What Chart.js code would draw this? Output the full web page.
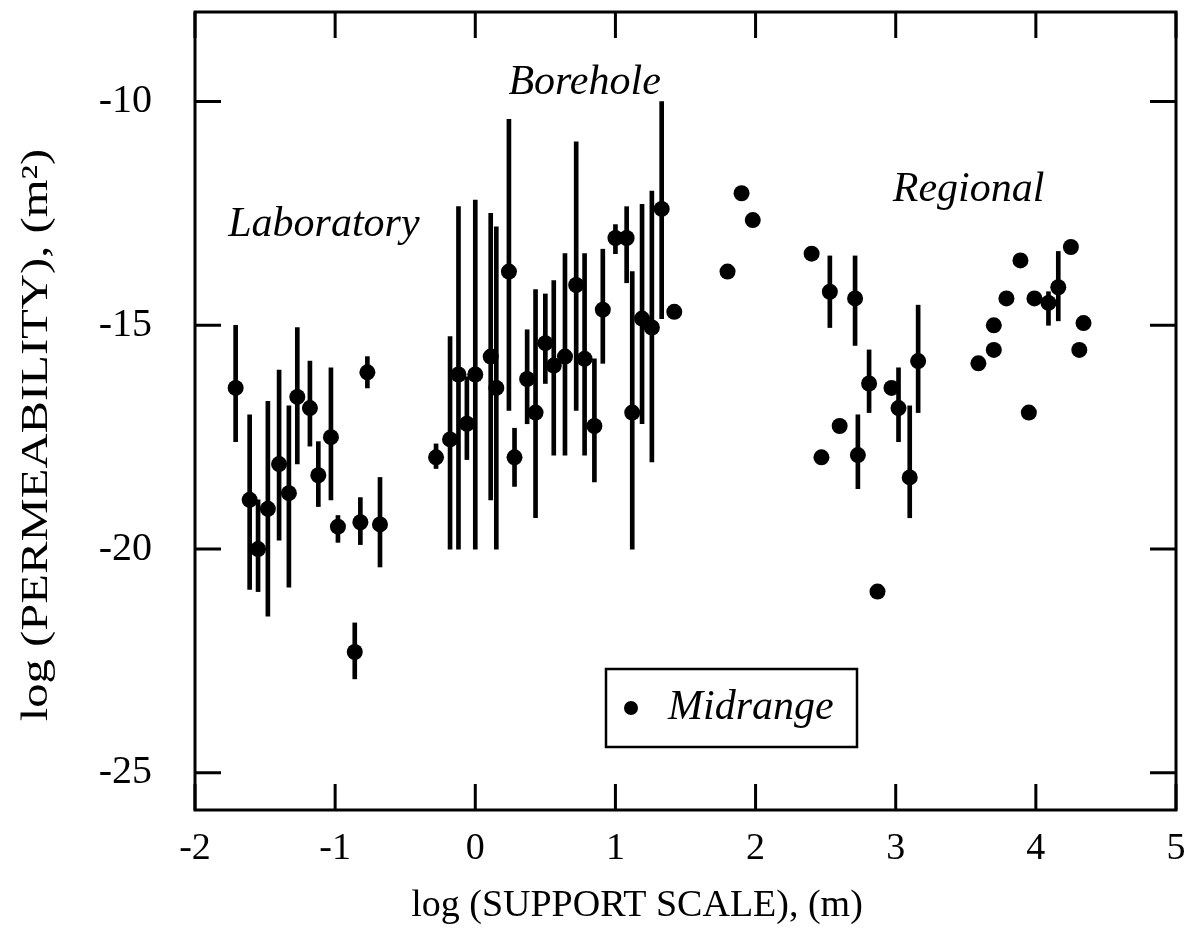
<!DOCTYPE html>
<html>
<head>
<meta charset="utf-8">
<title>Permeability vs support scale</title>
<script src="https://cdn.jsdelivr.net/npm/chart.js@4.4.0/dist/chart.umd.min.js"></script>
<style>
  html, body { margin: 0; padding: 0; background: #fff; }
</style>
</head>
<body>
<canvas id="permChart" width="1196" height="928"></canvas>
<script>
// midrange values, log10 of support scale (m) and permeability (m2)
const midX = [
  -1.71, -1.61, -1.55, -1.48, -1.40, -1.33, -1.27, -1.18, -1.12, -1.03, -0.98, -0.86, -0.82, -0.77, -0.68,
  -0.28, -0.18, -0.12, -0.06, 0.00, 0.11, 0.15, 0.24, 0.28, 0.37, 0.43, 0.50, 0.56, 0.64, 0.72, 0.78, 0.85, 0.91, 1.00, 1.08, 1.12, 1.19, 1.26, 1.33, 1.42,
  1.80, 1.90, 1.98, 2.40, 2.53, 2.71, 2.81, 2.97, 3.02, 3.16, 2.60, 2.47, 2.73, 3.10, 2.87,
  3.59, 3.70, 3.70, 3.79, 3.89, 3.95, 3.99, 4.09, 4.16, 4.25, 4.34, 4.31
];
const midY = [
  -16.4, -18.9, -20.0, -19.1, -18.1, -18.75, -16.6, -16.85, -18.35, -17.5, -19.5, -22.3, -19.4, -16.05, -19.45,
  -17.95, -17.55, -16.1, -17.2, -16.1, -15.7, -16.4, -13.8, -17.95, -16.2, -16.95, -15.4, -15.9, -15.7, -14.1, -15.75, -17.25, -14.65, -13.05, -13.05, -16.95, -14.85, -15.05, -12.4, -14.7,
  -13.8, -12.05, -12.65, -13.4, -14.25, -14.4, -16.3, -16.4, -16.85, -15.8, -17.25, -17.95, -17.9, -18.4, -20.95,
  -15.85, -15.55, -15.0, -14.4, -13.55, -16.95, -14.4, -14.5, -14.15, -13.25, -14.95, -15.55
];
// range of each estimate (null = no range drawn)
const errLow = [
  -17.6, -20.9, -20.95, -21.5, -19.8, -20.85, -18.1, -17.7, -19.05, -18.9, -19.85, -22.9, -19.9, -16.4, -20.4,
  -18.2, -20.0, -20.0, -18.0, -20.0, -18.9, -20.0, -16.9, -18.6, -17.2, -19.3, -16.3, -17.9, -17.9, -16.9, -17.9, -18.5, -15.85, -13.4, -14.05, -20.0, -17.2, -18.05, -14.85, null,
  null, null, null, null, -15.05, -15.45, -16.95, null, -17.6, -16.95, null, null, -18.65, -19.3, null,
  null, null, null, null, null, null, null, -15.0, -14.9, null, null, null
];
const errHigh = [
  -15.0, -17.0, -18.9, -16.7, -16.0, -16.8, -15.05, -15.8, -17.6, -15.95, -19.25, -21.65, -18.85, -15.7, -18.4,
  -17.65, -15.25, -12.35, -16.15, -12.2, -12.5, -12.8, -10.4, -17.3, -15.1, -14.2, -14.3, -14.0, -13.4, -10.9, -13.4, -15.75, -13.3, -12.75, -12.35, -13.8, -12.3, -12.0, -10.0, null,
  null, null, null, null, -13.45, -13.45, -15.55, null, -15.95, -14.55, null, null, -17.0, -16.8, null,
  null, null, null, null, null, null, null, -14.25, -13.35, null, null, null
];

const xTicks = [-2, -1, 0, 1, 2, 3, 4, 5];
const yTicks = [-25, -20, -15, -10];

const regionNames = ['Laboratory', 'Borehole', 'Regional'];
const regionX = [-1.08, 0.78, 3.52];
const regionY = [-12.76, -9.58, -11.98];

const serif = '"Liberation Serif", "Times New Roman", serif';

const points = midX.map((x, i) => ({ x: x, y: midY[i] }));
const ranges = [];
midX.forEach((x, i) => {
  if (errLow[i] !== null) ranges.push({ x: x, y: [errLow[i], errHigh[i]] });
});

// box with inward tick marks on all four sides
const frameTicks = {
  id: 'frameTicks',
  afterDatasetsDraw(chart) {
    const { ctx, chartArea: a, scales: { x, y } } = chart;
    ctx.save();
    ctx.strokeStyle = '#000';
    ctx.lineWidth = 3;
    ctx.strokeRect(a.left, a.top, a.right - a.left, a.bottom - a.top);
    ctx.beginPath();
    xTicks.forEach(v => {
      const px = x.getPixelForValue(v);
      ctx.moveTo(px, a.bottom); ctx.lineTo(px, a.bottom - 26);
      ctx.moveTo(px, a.top); ctx.lineTo(px, a.top + 26);
    });
    yTicks.forEach(v => {
      const py = y.getPixelForValue(v);
      ctx.moveTo(a.left, py); ctx.lineTo(a.left + 26, py);
      ctx.moveTo(a.right, py); ctx.lineTo(a.right - 26, py);
    });
    ctx.stroke();
    ctx.restore();
  }
};

// region names, axis titles and the boxed legend
const textLayer = {
  id: 'textLayer',
  afterDraw(chart) {
    const { ctx, chartArea: a, scales: { x, y } } = chart;
    ctx.save();
    ctx.fillStyle = '#000';
    ctx.textBaseline = 'middle';
    ctx.textAlign = 'center';
    ctx.font = 'italic 42px ' + serif;
    regionNames.forEach((name, i) => {
      ctx.fillText(name, x.getPixelForValue(regionX[i]), y.getPixelForValue(regionY[i]));
    });

    ctx.font = '38px ' + serif;
    ctx.fillText('log (SUPPORT SCALE), (m)', 637, 906);
    // the scanned y title is stretched along its length
    ctx.save();
    ctx.translate(37, 435);
    ctx.rotate(-Math.PI / 2);
    ctx.scale(1.28, 1);
    ctx.fillText('log (PERMEABILITY), (m\u00B2)', 0, 0);
    ctx.restore();

    // legend
    const bx = 606, by = 669, bw = 251, bh = 78;
    ctx.strokeStyle = '#000';
    ctx.lineWidth = 2.5;
    ctx.strokeRect(bx, by, bw, bh);
    ctx.beginPath();
    ctx.arc(bx + 25, by + bh / 2, 7, 0, Math.PI * 2);
    ctx.fill();
    ctx.textAlign = 'left';
    ctx.font = 'italic 42px ' + serif;
    ctx.fillText(chart.data.datasets[0].label, bx + 62, by + bh / 2);
    ctx.restore();
  }
};

const ctx = document.getElementById('permChart').getContext('2d');
const permChart = new Chart(ctx, {
  type: 'scatter',
  data: {
    datasets: [
      {
        type: 'scatter',
        label: 'Midrange',
        data: points,
        order: 0,
        pointRadius: 8,
        pointBackgroundColor: '#000',
        pointBorderWidth: 0
      },
      {
        type: 'bar',
        label: 'Range',
        data: ranges,
        order: 1,
        barThickness: 4,
        backgroundColor: '#000',
        borderWidth: 0
      }
    ]
  },
  options: {
    responsive: false,
    animation: false,
    events: [],
    layout: { padding: { left: 0, right: 20, top: 12, bottom: 0 } },
    plugins: {
      legend: { display: false },
      tooltip: { enabled: false }
    },
    scales: {
      x: {
        type: 'linear',
        min: -2,
        max: 5,
        offset: false,
        grid: { display: false, offset: false, drawTicks: false },
        border: { display: false },
        ticks: {
          stepSize: 1,
          padding: 16,
          color: '#000',
          font: { family: serif, size: 38 },
          callback: v => String(v)
        },
        afterFit(scale) {
          scale.height = 118;
          scale.paddingLeft = 0;
          scale.paddingRight = 0;
        }
      },
      y: {
        type: 'linear',
        min: -25.83,
        max: -8,
        beginAtZero: false,
        grid: { display: false, drawTicks: false },
        border: { display: false },
        ticks: {
          stepSize: 5,
          includeBounds: false,
          padding: 43,
          color: '#000',
          font: { family: serif, size: 40 },
          callback: v => String(v)
        },
        afterFit(scale) {
          scale.width = 195;
          scale.paddingTop = 0;
          scale.paddingBottom = 0;
        }
      }
    }
  },
  plugins: [frameTicks, textLayer]
});
</script>
</body>
</html>
